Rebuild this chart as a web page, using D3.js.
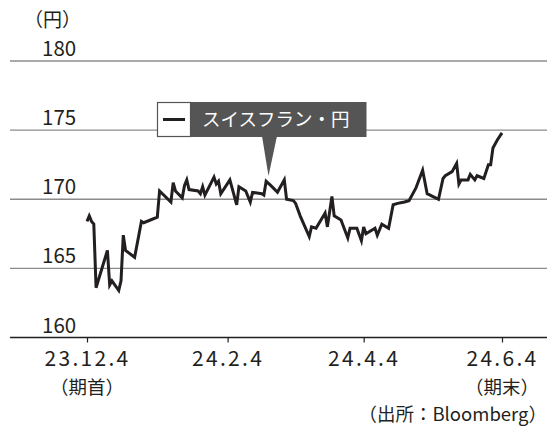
<!DOCTYPE html>
<html>
<head>
<meta charset="utf-8">
<script src="https://cdn.jsdelivr.net/npm/d3@7"></script>
<style>
  html, body { margin: 0; padding: 0; background: #fff; }
  svg { display: block; font-family: "Noto Sans CJK JP", "Noto Sans", sans-serif; }
</style>
</head>
<body>
<div id="chart"></div>
<script>
// CHF/JPY
const dates = [
  '2023-12-04', '2023-12-05', '2023-12-06', '2023-12-07', '2023-12-08', '2023-12-13',
  '2023-12-14', '2023-12-15', '2023-12-18', '2023-12-19', '2023-12-20', '2023-12-21',
  '2023-12-25', '2023-12-28', '2023-12-29', '2024-01-04', '2024-01-05', '2024-01-10',
  '2024-01-11', '2024-01-12', '2024-01-15', '2024-01-16', '2024-01-17', '2024-01-18',
  '2024-01-22', '2024-01-23', '2024-01-24', '2024-01-25', '2024-01-29', '2024-01-30',
  '2024-01-31', '2024-02-01', '2024-02-05', '2024-02-08', '2024-02-09', '2024-02-12',
  '2024-02-14', '2024-02-15', '2024-02-19', '2024-02-20', '2024-02-21', '2024-02-23',
  '2024-02-26', '2024-02-29', '2024-03-01', '2024-03-04', '2024-03-05', '2024-03-07',
  '2024-03-11', '2024-03-12', '2024-03-14', '2024-03-18', '2024-03-19', '2024-03-21',
  '2024-03-22', '2024-03-25', '2024-03-28', '2024-03-29', '2024-04-01', '2024-04-03',
  '2024-04-04', '2024-04-05', '2024-04-09', '2024-04-10', '2024-04-12', '2024-04-15',
  '2024-04-17', '2024-04-19', '2024-04-22', '2024-04-24', '2024-04-27', '2024-04-30',
  '2024-05-02', '2024-05-07', '2024-05-09', '2024-05-10', '2024-05-13', '2024-05-15',
  '2024-05-16', '2024-05-17', '2024-05-20', '2024-05-21', '2024-05-23', '2024-05-24',
  '2024-05-27', '2024-05-29', '2024-05-30', '2024-05-31', '2024-06-02', '2024-06-04'
];
const chfJpy = [
  168.4, 168.8, 168.4, 168.2, 163.6, 166.3,
  163.8, 164.1, 163.4, 164.1, 167.4, 166.3,
  165.8, 168.4, 168.3, 168.7, 170.6, 169.8,
  171.2, 170.6, 170.1, 171.0, 171.4, 170.7,
  170.6, 170.4, 170.9, 170.3, 171.6, 171.1,
  171.3, 170.4, 171.4, 169.6, 170.9, 170.6,
  169.8, 170.5, 170.4, 170.3, 171.3, 171.0,
  170.5, 171.4, 170.0, 169.9, 169.7, 168.8,
  167.3, 168.0, 167.9, 169.0, 168.0, 170.2,
  168.8, 168.5, 167.2, 167.9, 167.9, 167.0,
  168.0, 167.5, 167.9, 167.4, 168.2, 167.9,
  169.6, 169.7, 169.8, 169.9, 170.8, 172.1,
  170.4, 170.0, 171.5, 171.7, 172.0, 172.6,
  171.1, 171.4, 171.4, 171.8, 171.4, 171.7,
  171.5, 172.5, 172.5, 173.7, 174.3, 174.8
];
const yTicks = [160, 165, 170, 175, 180];
const xTicks = ['2023-12-04', '2024-02-04', '2024-04-04', '2024-06-04'];
const xTickLabels = ['23.12.4', '24.2.4', '24.4.4', '24.6.4'];
const xSubLabels = ['（期首）', '', '', '（期末）'];
const seriesName = 'スイスフラン・円';
const unitLabel = '（円）';
const sourceLabel = '（出所：Bloomberg）';

const width = 547;
const height = 428;
const ink = '#231f20';

const parse = d3.timeParse('%Y-%m-%d');
const data = dates.map((d, i) => ({ date: parse(d), value: chfJpy[i] }));

const svg = d3.select('#chart')
  .append('svg')
  .attr('width', width)
  .attr('height', height)
  .attr('viewBox', `0 0 ${width} ${height}`);

const x = d3.scaleTime()
  .domain([parse(xTicks[0]), parse(xTicks[xTicks.length - 1])])
  .range([87, 502]);

const y = d3.scaleLinear()
  .domain([160, 180])
  .range([337.5, 61]);

// gridlines
svg.append('g')
  .selectAll('line')
  .data(yTicks.filter(d => d !== 160))
  .join('line')
  .attr('x1', 10)
  .attr('x2', width)
  .attr('y1', d => y(d))
  .attr('y2', d => y(d))
  .attr('stroke', '#8c8c8c')
  .attr('stroke-width', 1.3);

// y labels
svg.append('g')
  .selectAll('text')
  .data(yTicks)
  .join('text')
  .attr('x', 42)
  .attr('y', d => y(d) - 5)
  .attr('font-size', 20.5)
  .attr('fill', ink)
  .text(d => d);

svg.append('text')
  .attr('x', 24)
  .attr('y', 27)
  .attr('font-size', 19)
  .attr('fill', ink)
  .text(unitLabel);

// x axis
const xAxis = svg.append('g')
  .attr('transform', `translate(0, ${y(160)})`)
  .call(d3.axisBottom(x)
    .tickValues(xTicks.map(parse))
    .tickSize(5)
    .tickFormat((d, i) => xTickLabels[i]));

xAxis.select('.domain')
  .attr('d', `M10,0H${width}`)
  .attr('stroke', ink)
  .attr('stroke-width', 1.5);

xAxis.selectAll('.tick line')
  .attr('stroke', ink)
  .attr('stroke-width', 1.2);

xAxis.selectAll('.tick text')
  .attr('y', 13.5)
  .attr('dy', '0.71em')
  .attr('font-size', 21)
  .attr('font-family', '"Noto Sans CJK JP", sans-serif')
  .attr('letter-spacing', 2.3)
  .attr('fill', ink);

// second line under the first and last date
svg.append('g')
  .selectAll('text')
  .data(xTicks.map((d, i) => ({ date: parse(d), label: xSubLabels[i] })).filter(d => d.label))
  .join('text')
  .attr('x', d => x(d.date))
  .attr('y', 394)
  .attr('text-anchor', 'middle')
  .attr('font-size', 18.5)
  .attr('fill', ink)
  .text(d => d.label);

svg.append('text')
  .attr('x', width)
  .attr('y', 421)
  .attr('text-anchor', 'end')
  .attr('font-size', 18.5)
  .attr('fill', ink)
  .text(sourceLabel);

// series line
svg.append('path')
  .datum(data)
  .attr('fill', 'none')
  .attr('stroke', ink)
  .attr('stroke-width', 3)
  .attr('stroke-linejoin', 'miter')
  .attr('d', d3.line().x(d => x(d.date)).y(d => y(d.value)));

// legend callout
const legend = svg.append('g');
legend.append('rect')
  .attr('x', 190.5)
  .attr('y', 102)
  .attr('width', 176)
  .attr('height', 35)
  .attr('fill', '#555555');
legend.append('path')
  .attr('d', 'M262,136 L277,136 L268.5,176 Z')
  .attr('fill', '#555555');
legend.append('rect')
  .attr('x', 157.5)
  .attr('y', 102.5)
  .attr('width', 33)
  .attr('height', 34)
  .attr('fill', '#fff')
  .attr('stroke', '#555555')
  .attr('stroke-width', 1.2);
legend.append('line')
  .attr('x1', 163)
  .attr('x2', 185)
  .attr('y1', 119.5)
  .attr('y2', 119.5)
  .attr('stroke', ink)
  .attr('stroke-width', 3);
legend.append('text')
  .attr('x', 202)
  .attr('y', 126)
  .attr('font-size', 18.5)
  .attr('fill', '#fff')
  .text(seriesName);
</script>
</body>
</html>
